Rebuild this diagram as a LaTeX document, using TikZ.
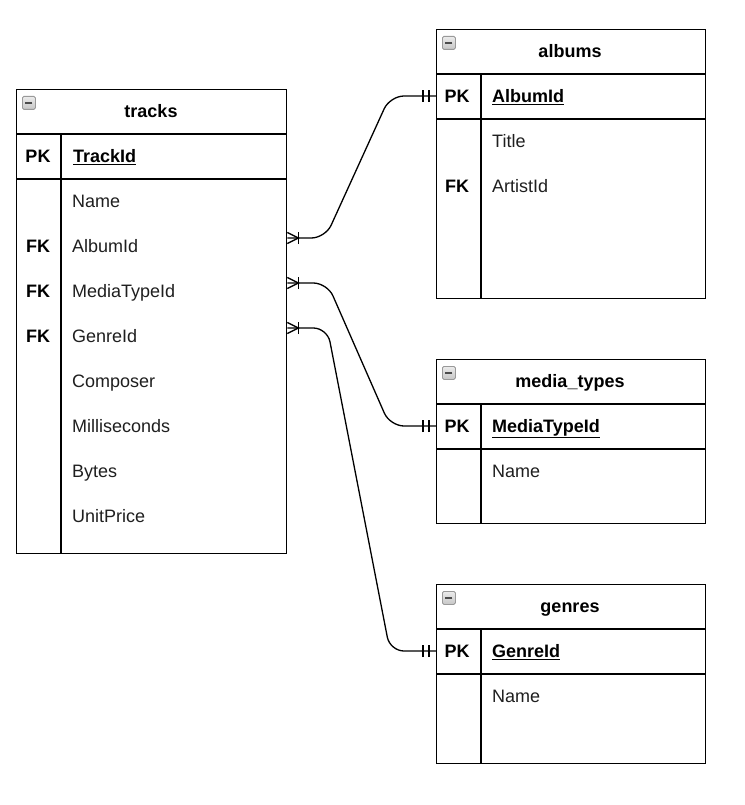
\documentclass[tikz,border=0pt]{standalone}
\usepackage{fontspec}
\setmainfont{Liberation Sans}
\begin{document}
\begin{tikzpicture}[x=1pt,y=-1pt,
  font=\fontsize{18}{21}\selectfont,
  txt/.style={inner sep=0pt, text height=13pt, text depth=0pt},
  tbl/.style={draw=black, line width=1.3pt, anchor=north west, inner sep=0pt, fill=white},
  sep/.style={draw=black, line width=1.3pt},
  title/.style={txt, font=\fontsize{18}{21}\selectfont\bfseries, anchor=center},
  keylab/.style={txt, font=\fontsize{18}{21}\selectfont\bfseries, anchor=center},
  pkfld/.style={txt, font=\fontsize{18}{21}\selectfont\bfseries, anchor=west},
  fld/.style={txt, text=black!88, anchor=west},
  conn/.style={draw=black, line width=1.3pt, rounded corners=14pt},
  ermark/.style={draw=black, line width=1.3pt},
  icon/.style={draw=gray!80, top color=gray!15, bottom color=gray!45, rounded corners=1.5pt, line width=0.8pt, minimum size=13pt, inner sep=0pt, anchor=north west}
]
\useasboundingbox (0,0) rectangle (744,805);
\newcommand{\ulbold}[1]{\underline{#1}}
\newcommand{\collapseicon}[2]{%
  \node[icon] (#1) at #2 {};
  \draw[black!70, line width=1.6pt] ([xshift=3.5pt]#1.center) -- ([xshift=-3.5pt]#1.center);}

% ---------- tracks ----------
\node[tbl, minimum width=270pt, minimum height=464pt] (tracks) at (16,89) {};
\draw[sep] (16,134) -- (286,134);
\draw[sep] (16,179) -- (286,179);
\draw[sep] (61,134) -- (61,553);
\collapseicon{ictr}{(22,96)}
\node[title] (trtitle) at (151,111) {tracks};
\node[keylab] (trpk) at (38,156) {PK};
\node[pkfld] (trid) at (73,156) {\ulbold{TrackId}};
\node[fld] (trname) at (72,201) {Name};
\node[keylab] (trfk1) at (38,246) {FK};
\node[fld] (tralbum) at (72,246) {AlbumId};
\node[keylab] (trfk2) at (38,291) {FK};
\node[fld] (trmedia) at (72,291) {MediaTypeId};
\node[keylab] (trfk3) at (38,336) {FK};
\node[fld] (trgenre) at (72,336) {GenreId};
\node[fld] (trcomp) at (72,381) {Composer};
\node[fld] (trms) at (72,426) {Milliseconds};
\node[fld] (trbytes) at (72,471) {Bytes};
\node[fld] (trprice) at (72,516) {UnitPrice};

% ---------- albums ----------
\node[tbl, minimum width=269pt, minimum height=269pt] (albums) at (436,29) {};
\draw[sep] (436,74) -- (705,74);
\draw[sep] (436,119) -- (705,119);
\draw[sep] (481,74) -- (481,298);
\collapseicon{ical}{(442,36)}
\node[title] (altitle) at (570,51) {albums};
\node[keylab] (alpk) at (457,96) {PK};
\node[pkfld] (alid) at (492,96) {\ulbold{AlbumId}};
\node[fld] (altitlef) at (492,141) {Title};
\node[keylab] (alfk) at (457,186) {FK};
\node[fld] (alartist) at (492,186) {ArtistId};

% ---------- media_types ----------
\node[tbl, minimum width=269pt, minimum height=164pt] (media) at (436,359) {};
\draw[sep] (436,404) -- (705,404);
\draw[sep] (436,449) -- (705,449);
\draw[sep] (481,404) -- (481,523);
\collapseicon{icmt}{(442,366)}
\node[title] (mttitle) at (570,381) {media\_types};
\node[keylab] (mtpk) at (457,426) {PK};
\node[pkfld] (mtid) at (492,426) {\ulbold{MediaTypeId}};
\node[fld] (mtname) at (492,471) {Name};

% ---------- genres ----------
\node[tbl, minimum width=269pt, minimum height=179pt] (genres) at (436,584) {};
\draw[sep] (436,629) -- (705,629);
\draw[sep] (436,674) -- (705,674);
\draw[sep] (481,629) -- (481,763);
\collapseicon{icgn}{(442,591)}
\node[title] (gntitle) at (570,606) {genres};
\node[keylab] (gnpk) at (457,651) {PK};
\node[pkfld] (gnid) at (492,651) {\ulbold{GenreId}};
\node[fld] (gnname) at (492,696) {Name};

% ---------- connection points ----------
\coordinate (s1) at ([yshift=8pt]tracks.east |- tralbum);
\coordinate (s2) at ([yshift=8pt]tracks.east |- trmedia);
\coordinate (s3) at ([yshift=8pt]tracks.east |- trgenre);
\coordinate (t1) at (albums.west |- alpk);
\coordinate (t2) at (media.west |- mtpk);
\coordinate (t3) at (genres.west |- gnpk);

% ---------- connectors ----------
\draw[conn] (s1) -- ([xshift=38pt]s1) -- ([xshift=-46pt]t1) -- (t1);
\draw[conn] (s2) -- ([xshift=40pt]s2) -- ([xshift=-46pt]t2) -- (t2);
\draw[conn] (s3) -- ([xshift=40pt]s3) -- ([xshift=-46pt]t3) -- (t3);

% ---------- crow's feet (one or many) ----------
\foreach \s in {s1,s2,s3}{
  \draw[ermark] ([yshift=-5.5pt]\s) -- ([xshift=11pt]\s) -- ([yshift=5.5pt]\s);
  \draw[ermark] ([xshift=11pt,yshift=-6pt]\s) -- ([xshift=11pt,yshift=6pt]\s);
}
% ---------- mandatory one ----------
\foreach \t in {t1,t2,t3}{
  \draw[ermark] ([xshift=-13pt,yshift=-6pt]\t) -- ([xshift=-13pt,yshift=6pt]\t);
  \draw[ermark] ([xshift=-7pt,yshift=-6pt]\t) -- ([xshift=-7pt,yshift=6pt]\t);
}
\end{tikzpicture}
\end{document}
